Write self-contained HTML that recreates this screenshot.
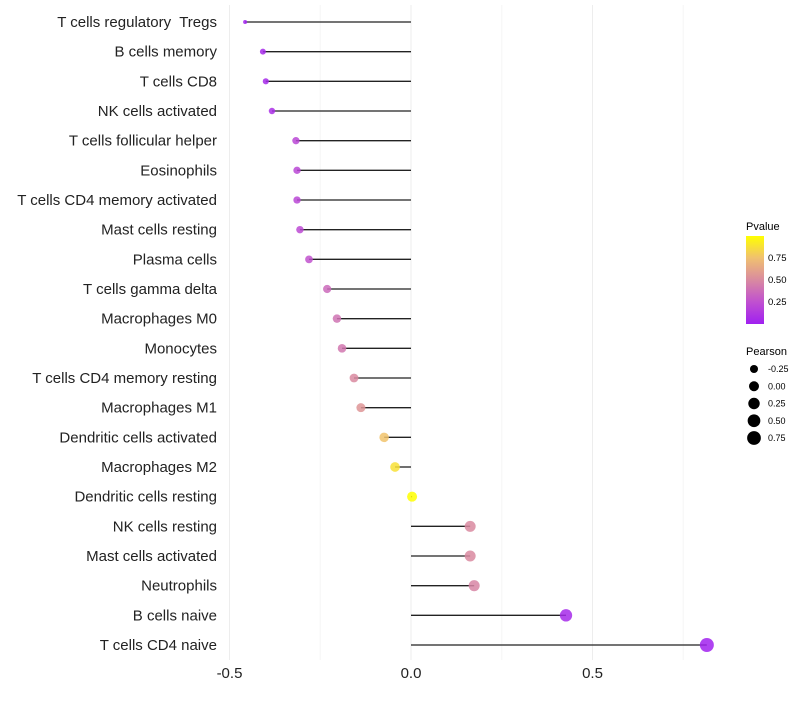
<!DOCTYPE html>
<html><head><meta charset="utf-8"><style>
body{margin:0;background:#fff;font-family:"Liberation Sans",sans-serif}
text{white-space:pre}
</style></head><body>
<svg id="c" width="800" height="700" xmlns="http://www.w3.org/2000/svg">
<defs><linearGradient id="pg" x1="0" y1="1" x2="0" y2="0">
<stop offset="0" stop-color="#a020f0"/><stop offset="0.25" stop-color="#c050d0"/><stop offset="0.5" stop-color="#d98aa0"/><stop offset="0.75" stop-color="#f0c070"/><stop offset="1" stop-color="#ffff00"/></linearGradient></defs>
<g id="grid"></g><g id="marks"></g><g id="labels"></g>
<g font-size="9.5">
<text x="746" y="230" font-size="11">Pvalue</text>
<rect x="746" y="236" width="18" height="88" fill="url(#pg)"/>
<text x="768" y="261">0.75</text><text x="768" y="283">0.50</text><text x="768" y="305">0.25</text>
</g>
<g font-size="9">
<text x="746" y="355" font-size="11">Pearson</text>
<g id="sizeleg"></g>
</g>
</svg>
<script>
const categories=["T cells regulatory  Tregs","B cells memory","T cells CD8","NK cells activated","T cells follicular helper","Eosinophils","T cells CD4 memory activated","Mast cells resting","Plasma cells","T cells gamma delta","Macrophages M0","Monocytes","T cells CD4 memory resting","Macrophages M1","Dendritic cells activated","Macrophages M2","Dendritic cells resting","NK cells resting","Mast cells activated","Neutrophils","B cells naive","T cells CD4 naive"];
const pearson=[-0.457,-0.408,-0.40,-0.383,-0.317,-0.314,-0.314,-0.306,-0.281,-0.231,-0.204,-0.19,-0.157,-0.138,-0.074,-0.044,0.003,0.163,0.163,0.174,0.427,0.815];
const pvalue=[0.01,0.05,0.05,0.08,0.2,0.2,0.2,0.22,0.26,0.36,0.4,0.42,0.5,0.55,0.76,0.88,1.0,0.5,0.5,0.48,0.05,0.01];
const xTicks=[-0.5,0,0.5];
const xTickLabels=["-0.5","0.0","0.5"];
const minorTicks=[-0.25,0.25,0.75];
const sizeLegend=[-0.25,0,0.25,0.5,0.75];
const sizeLegendLabels=["-0.25","0.00","0.25","0.50","0.75"];
const NS="http://www.w3.org/2000/svg";
const x=v=>411+v*363;
const y=i=>22+i*(623/21);
const r=v=>2+5*Math.sqrt(Math.max(0,(v+0.457)/1.272));
const stops=[[0,[160,32,240]],[0.25,[192,80,208]],[0.5,[217,138,160]],[0.75,[240,192,112]],[1,[255,255,0]]];
function col(p){for(let k=1;k<stops.length;k++){if(p<=stops[k][0]){const a=stops[k-1],b=stops[k],t=(p-a[0])/(b[0]-a[0]);return"rgb("+a[1].map((c,j)=>Math.round(c+(b[1][j]-c)*t)).join(",")+")";}}return"rgb(255,255,0)";}
function mk(t,at,p){const e=document.createElementNS(NS,t);for(const k in at)e.setAttribute(k,at[k]);p.appendChild(e);return e;}
const G=document.getElementById('grid'),M=document.getElementById('marks'),L=document.getElementById('labels');
minorTicks.forEach(v=>{const e=mk('line',{x1:x(v),x2:x(v),y1:5,y2:660,stroke:'#f5f5f5','stroke-width':1},G);

});
xTicks.forEach((v,i)=>{const e=mk('line',{x1:x(v),x2:x(v),y1:5,y2:660,stroke:'#ededed','stroke-width':1},G);


const t=mk('text',{x:x(v),y:678,'text-anchor':'middle','font-size':15,fill:'#222'},L);t.textContent=xTickLabels[i];

});
categories.forEach((c,i)=>{const yy=y(i);
const ln=mk('line',{x1:x(0),x2:x(pearson[i]),y1:yy,y2:yy,stroke:'#222','stroke-width':1.3},M);


const d=mk('circle',{cx:x(pearson[i]),cy:yy,r:r(pearson[i]),fill:col(pvalue[i]),'fill-opacity':0.85},M);


const t=mk('text',{x:217,y:yy+5,'text-anchor':'end','font-size':15,fill:'#222'},L);t.textContent=c;

});
const S=document.getElementById('sizeleg');
sizeLegend.forEach((v,i)=>{const yy=369+i*17.25;
const d=mk('circle',{cx:754,cy:yy,r:r(v),fill:'#000'},S);


const t=mk('text',{x:768,y:yy+3},S);t.textContent=sizeLegendLabels[i];

});
</script>
</body></html>
